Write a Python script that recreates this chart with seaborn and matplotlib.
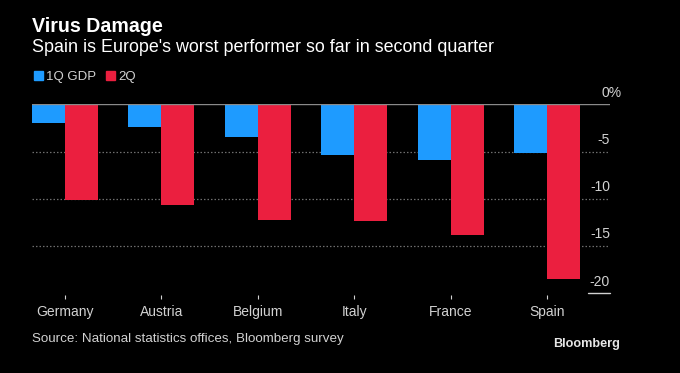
import pandas as pd
import matplotlib.pyplot as plt
import matplotlib.transforms as mtransforms
import seaborn as sns

# GDP change by country
countries = ["Germany", "Austria", "Belgium", "Italy", "France", "Spain"]
q1_gdp = [-2.0, -2.4, -3.5, -5.4, -5.9, -5.2]
q2_gdp = [-10.1, -10.7, -12.2, -12.4, -13.8, -18.5]
series = ["1Q GDP", "2Q"]
y_ticks = [0, -5, -10, -15, -20]

blue = "#1e9bff"
red = "#eb1f3f"
txt = "#d2d2d2"

data = pd.DataFrame({
    "country": countries * 2,
    "series": [series[0]] * len(countries) + [series[1]] * len(countries),
    "value": q1_gdp + q2_gdp,
})

sns.set_style("dark")
plt.rcParams["font.family"] = ["Liberation Sans", "DejaVu Sans"]

fig = plt.figure(figsize=(6.8, 3.73), dpi=100, facecolor="black")
ax = fig.add_axes([32 / 680, 1 - 293.3 / 373, 578 / 680, 189 / 373])
ax.set_facecolor("black")

sns.barplot(data=data, x="country", y="value", hue="series", order=countries,
            hue_order=series, palette=[blue, red], width=0.684,
            saturation=1, legend=False, ax=ax, zorder=3,
            edgecolor="none", linewidth=0)

ax.set_xlim(-0.342, 5.65)
ax.set_ylim(-20, 0)

# dotted gridlines and the zero line
for v in y_ticks[1:-1]:
    ax.axhline(v, color="#6e6e6e", lw=0.9, ls=(0, (1.2, 1.6)), zorder=1)
ax.axhline(0, color="#8a8a8a", lw=1.0, zorder=4)
trans = mtransforms.blended_transform_factory(ax.transAxes, ax.transData)
ax.plot([0.962, 1.0], [-20, -20], color=txt, lw=1.0, transform=trans,
        clip_on=False)

# y labels sit above the lines on the right
off = mtransforms.offset_copy(trans, fig=fig, x=0, y=5.5, units="points")
for v in y_ticks:
    if v == 0:
        ax.text(0.9855, v, "0%", transform=off, ha="left", va="baseline",
                color=txt, fontsize=10)
    else:
        ax.text(1.0, v, str(v), transform=off, ha="right", va="baseline",
                color=txt, fontsize=10)

ax.set_yticks([])
ax.set_xlabel("")
ax.set_ylabel("")
for s in ax.spines.values():
    s.set_visible(False)
ax.spines["bottom"].set_position(("outward", 1.5))
ax.tick_params(axis="x", bottom=True, colors=txt, length=3, width=0.8, pad=4,
               labelsize=10, direction="out")
ax.grid(False)

# titles
fig.text(32 / 680, 1 - 32 / 373, "Virus Damage", color="white", fontsize=14.1,
         fontweight="bold")
fig.text(32 / 680, 1 - 52 / 373,
         "Spain is Europe's worst performer so far in second quarter",
         color="white", fontsize=12.9)

# legend
fig.patches.append(plt.Rectangle((34 / 680, 1 - 80 / 373), 9 / 680, 9 / 373,
                                 color=blue, transform=fig.transFigure))
fig.text(46 / 680, 1 - 80 / 373, "1Q GDP", color=txt, fontsize=9.5)
fig.patches.append(plt.Rectangle((106 / 680, 1 - 80 / 373), 9 / 680, 9 / 373,
                                 color=red, transform=fig.transFigure))
fig.text(118 / 680, 1 - 80 / 373, "2Q", color=txt, fontsize=9.5)

# footer
fig.text(32 / 680, 1 - 342 / 373,
         "Source: National statistics offices, Bloomberg survey",
         color=txt, fontsize=9.65)
fig.text(620 / 680, 1 - 347 / 373, "Bloomberg", color="#e6e6e6", fontsize=9.1,
         fontweight="bold", ha="right")

fig.savefig("out.png", dpi=100, facecolor="black")
